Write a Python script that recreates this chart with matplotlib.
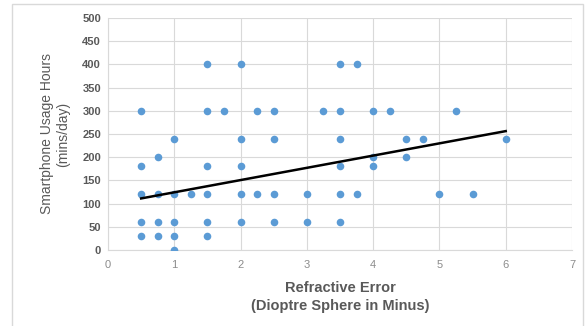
import numpy as np
import matplotlib.pyplot as plt
from matplotlib.patches import Rectangle

plt.rcParams['font.family'] = ['Liberation Sans', 'DejaVu Sans']

# refractive error (dioptre, minus) and smartphone use (mins/day)
err_400 = [1.5, 2, 3.5, 3.75]
err_300 = [0.5, 1.5, 1.75, 2.25, 2.5, 3.25, 3.5, 4, 4.25, 5.25]
err_240 = [1, 2, 2.5, 3.5, 4.5, 4.75, 6]
err_200 = [0.75, 4, 4.5]
err_180 = [0.5, 1.5, 2, 3.5, 4]
err_120 = [0.5, 0.75, 1, 1.25, 1.5, 2, 2.25, 2.5, 3, 3.5, 3.75, 5, 5.5]
err_60 = [0.5, 0.75, 1, 1.5, 2, 2.5, 3, 3.5]
err_30 = [0.5, 0.75, 1, 1.5]
err_0 = [1]

# respondents hidden under an identical visible dot (estimated from the trend line)
dup_err = [2, 2.5, 3, 2, 2.5, 3, 0.5, 1, 1.5, 1, 2.5, 3, 2]
dup_use = [60, 60, 60, 120, 120, 120, 120, 60, 30, 30, 60, 120, 60]

groups = [(err_400, 400), (err_300, 300), (err_240, 240), (err_200, 200),
          (err_180, 180), (err_120, 120), (err_60, 60), (err_30, 30), (err_0, 0)]
x_vis = np.array([v for g, h in groups for v in g])
y_vis = np.array([h for g, h in groups for v in g])
x = np.concatenate([x_vis, dup_err])
y = np.concatenate([y_vis, dup_use])

grey = '#595959'
fig = plt.figure(figsize=(5.86, 3.26), dpi=100)
fig.patches.append(Rectangle((12/586, -0.01), 571/586, 1 - 4/326 + 0.01,
                             transform=fig.transFigure, fill=False,
                             edgecolor='#d9d9d9', lw=1))
ax = fig.add_axes([108/586, 1 - 250/326, 464/586, 232/326])

ax.scatter(x_vis, y_vis, s=30, color='#5b9bd5', zorder=3, linewidths=0)
k, c = np.polyfit(x, y, 1)
xl = np.array([x.min(), x.max()])
ax.plot(xl, k * xl + c, color='black', lw=1.8, zorder=4)

ax.set_xlim(0, 7)
ax.set_ylim(0, 500)
ax.set_xticks(range(0, 8))
ax.set_yticks(range(0, 501, 50))
ax.grid(True, color='#d9d9d9', lw=0.8)
ax.set_axisbelow(True)
for s in ['top', 'right']:
    ax.spines[s].set_visible(False)
for s in ['left', 'bottom']:
    ax.spines[s].set_color('#d9d9d9')
ax.tick_params(axis='y', length=0, colors=grey, labelsize=8, pad=5)
ax.tick_params(axis='x', length=0, pad=7, colors='#8c8c8c', labelsize=8)
for t in ax.get_yticklabels():
    t.set_fontweight('bold')

ax.set_xlabel('Refractive Error\n(Dioptre Sphere in Minus)', fontsize=10.5,
              fontweight='bold', color=grey, labelpad=8, linespacing=1.35)
ax.set_ylabel('Smartphone Usage Hours\n(mins/day)', fontsize=10,
              color=grey, labelpad=9)

fig.savefig('out.png', dpi=100)
